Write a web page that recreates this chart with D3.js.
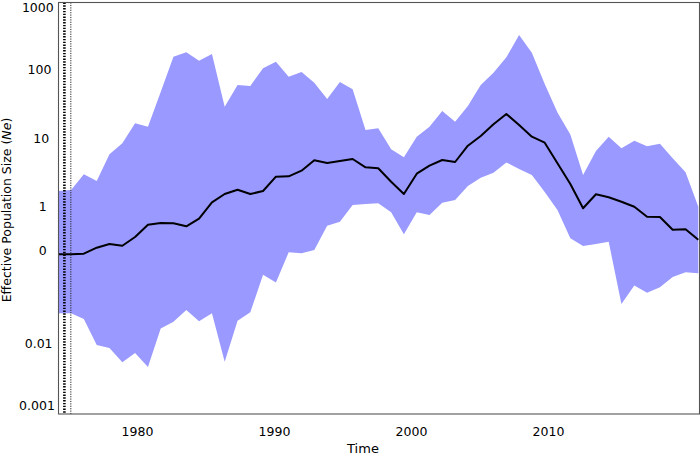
<!DOCTYPE html>
<html>
<head>
<meta charset="utf-8">
<script src="https://cdn.jsdelivr.net/npm/d3@7"></script>
<style>
  html, body { margin: 0; padding: 0; background: #fff; }
  svg { display: block; font-family: "DejaVu Sans", sans-serif; }
</style>
</head>
<body>
<svg id="chart" width="700" height="455"></svg>
<script>
// ---- data ----
const times = [1974.26,1975.19,1976.12,1977.06,1977.99,1978.93,1979.86,1980.80,1981.73,1982.66,
  1983.60,1984.53,1985.47,1986.40,1987.34,1988.27,1989.20,1990.14,1991.07,1992.01,
  1992.94,1993.88,1994.81,1995.74,1996.68,1997.61,1998.55,1999.48,2000.42,2001.35,
  2002.28,2003.22,2004.15,2005.09,2006.02,2006.96,2007.89,2008.82,2009.76,2010.69,
  2011.63,2012.56,2013.50,2014.43,2015.36,2016.30,2017.23,2018.17,2019.10,2020.04,2020.97];

const medianNe = [0.2145,0.2145,0.2188,0.2677,0.3032,0.2863,0.3836,0.580,0.614,0.608,
  0.550,0.710,1.232,1.628,1.882,1.628,1.801,2.912,2.952,3.563,
  5.053,4.615,4.935,5.279,3.996,3.864,2.462,1.628,3.221,4.216,
  5.105,4.773,8.256,11.44,16.96,23.97,16.56,11.17,9.134,4.570,
  2.279,1.007,1.612,1.457,1.257,1.062,0.759,0.752,0.490,0.497,0.350];

const upperNe = [1.80,1.863,3.158,2.521,6.183,8.95,17.53,15.64,50.2,164.5,
  190.7,143.8,180.1,30.6,63.5,61.4,111.4,139.0,84.0,98.3,
  68.6,39.7,70.3,55.0,14.0,14.8,7.31,5.59,11.17,15.64,
  26.5,18.5,31.4,63.5,96.0,161.2,341,188.2,65.7,25.2,
  12.03,3.08,6.91,11.17,7.56,9.77,8.09,8.83,5.40,3.39,1.062];

const lowerNe = [0.02953,0.02953,0.02437,0.01017,0.00919,0.00568,0.00777,0.00485,0.01771,0.02225,
  0.0330,0.02256,0.02953,0.00580,0.02301,0.03053,0.1080,0.0831,0.2294,0.2218,
  0.2478,0.5608,0.6418,1.125,1.163,1.191,0.880,0.420,0.880,0.804,
  1.215,1.331,2.131,2.816,3.332,4.693,3.772,3.084,1.741,0.951,
  0.367,0.2836,0.3032,0.3265,0.0403,0.0751,0.0590,0.0707,0.100,0.1171,0.1132];

const markerYears = [1974.70, 1975.17];

const xTickValues = [1980, 1990, 2000, 2010];
const yTickValues = [1000, 100, 10, 1, 0.23, 0.01, 0.001];
const yTickLabels = ["1000", "100", "10", "1", "0", "0.01", "0.001"];

// ---- layout ----
const svg = d3.select("#chart");
const pLeft = 58.5, pRight = 699.5, pTop = 2.5, pBottom = 414;

const x = d3.scaleLinear().domain([1974.255, 2020.97]).range([58.3, 698.3]);
const y = d3.scaleLog().domain([0.001, 1000]).range([414, 3]);

const rows = times.map((t, i) => ({ t, m: medianNe[i], lo: lowerNe[i], hi: upperNe[i] }));

const clipId = "plotclip";
svg.append("defs").append("clipPath").attr("id", clipId)
  .append("rect").attr("x", pLeft).attr("y", pTop).attr("width", pRight - pLeft).attr("height", pBottom - pTop);

const plot = svg.append("g").attr("clip-path", `url(#${clipId})`);

plot.append("path")
  .datum(rows)
  .attr("fill", "#9999ff")
  .attr("stroke", "none")
  .attr("d", d3.area().x(d => x(d.t)).y0(d => y(d.lo)).y1(d => y(d.hi)));

plot.append("path")
  .datum(rows)
  .attr("fill", "none")
  .attr("stroke", "#000")
  .attr("stroke-width", 2)
  .attr("stroke-linejoin", "round")
  .attr("d", d3.line().x(d => x(d.t)).y(d => y(d.m)));

// vertical dotted markers
plot.append("line")
  .attr("x1", x(markerYears[0])).attr("x2", x(markerYears[0]))
  .attr("y1", pTop).attr("y2", pBottom)
  .attr("stroke", "#000").attr("stroke-width", 2.6)
  .attr("stroke-dasharray", "1.4,1.4");
plot.append("line")
  .attr("x1", x(markerYears[1])).attr("x2", x(markerYears[1]))
  .attr("y1", pTop).attr("y2", pBottom)
  .attr("stroke", "#222").attr("stroke-width", 1)
  .attr("stroke-dasharray", "1.2,1.2");

// frame
svg.append("rect")
  .attr("x", pLeft).attr("y", pTop)
  .attr("width", pRight - pLeft).attr("height", pBottom - pTop)
  .attr("fill", "none").attr("stroke", "#555").attr("stroke-width", 1.1);

// y tick labels (no tick marks)
const yAxis = d3.axisLeft(y).tickValues(yTickValues)
  .tickFormat((d, i) => yTickLabels[i]).tickSize(0).tickPadding(0);
const yg = svg.append("g").call(yAxis);
yg.select(".domain").remove();
yg.selectAll(".tick").each(function(d) {
  const ty = Math.max(7.5, Math.min(406, y(d) - 1.5));
  d3.select(this).attr("transform", `translate(0,${ty})`);
});
yg.selectAll("text")
  .attr("font-family", "DejaVu Sans, sans-serif")
  .attr("font-size", "12.5px")
  .attr("fill", "#000")
  .attr("dy", "0.35em")
  .attr("text-anchor", "end")
  .each(function() {
    const w = this.getComputedTextLength();
    d3.select(this).attr("x", 44.5 + 0.29 * w);
  });

// x tick labels
const xAxis = d3.axisBottom(x).tickValues(xTickValues).tickFormat(d3.format("d")).tickSize(0).tickPadding(0);
const xg = svg.append("g").call(xAxis);
xg.select(".domain").remove();
xg.selectAll("text")
  .attr("font-family", "DejaVu Sans, sans-serif")
  .attr("font-size", "12.5px")
  .attr("fill", "#000")
  .attr("y", 435.5).attr("dy", 0);

// axis titles
svg.append("text")
  .attr("x", 363).attr("y", 453)
  .attr("text-anchor", "middle")
  .attr("font-size", "13px")
  .text("Time");

const yt = svg.append("text")
  .attr("transform", "translate(11,210) rotate(-90)")
  .attr("text-anchor", "middle")
  .attr("font-size", "12.5px");
yt.append("tspan").text("Effective Population Size (");
yt.append("tspan").attr("font-style", "italic").text("Ne");
yt.append("tspan").text(")");
</script>
</body>
</html>
